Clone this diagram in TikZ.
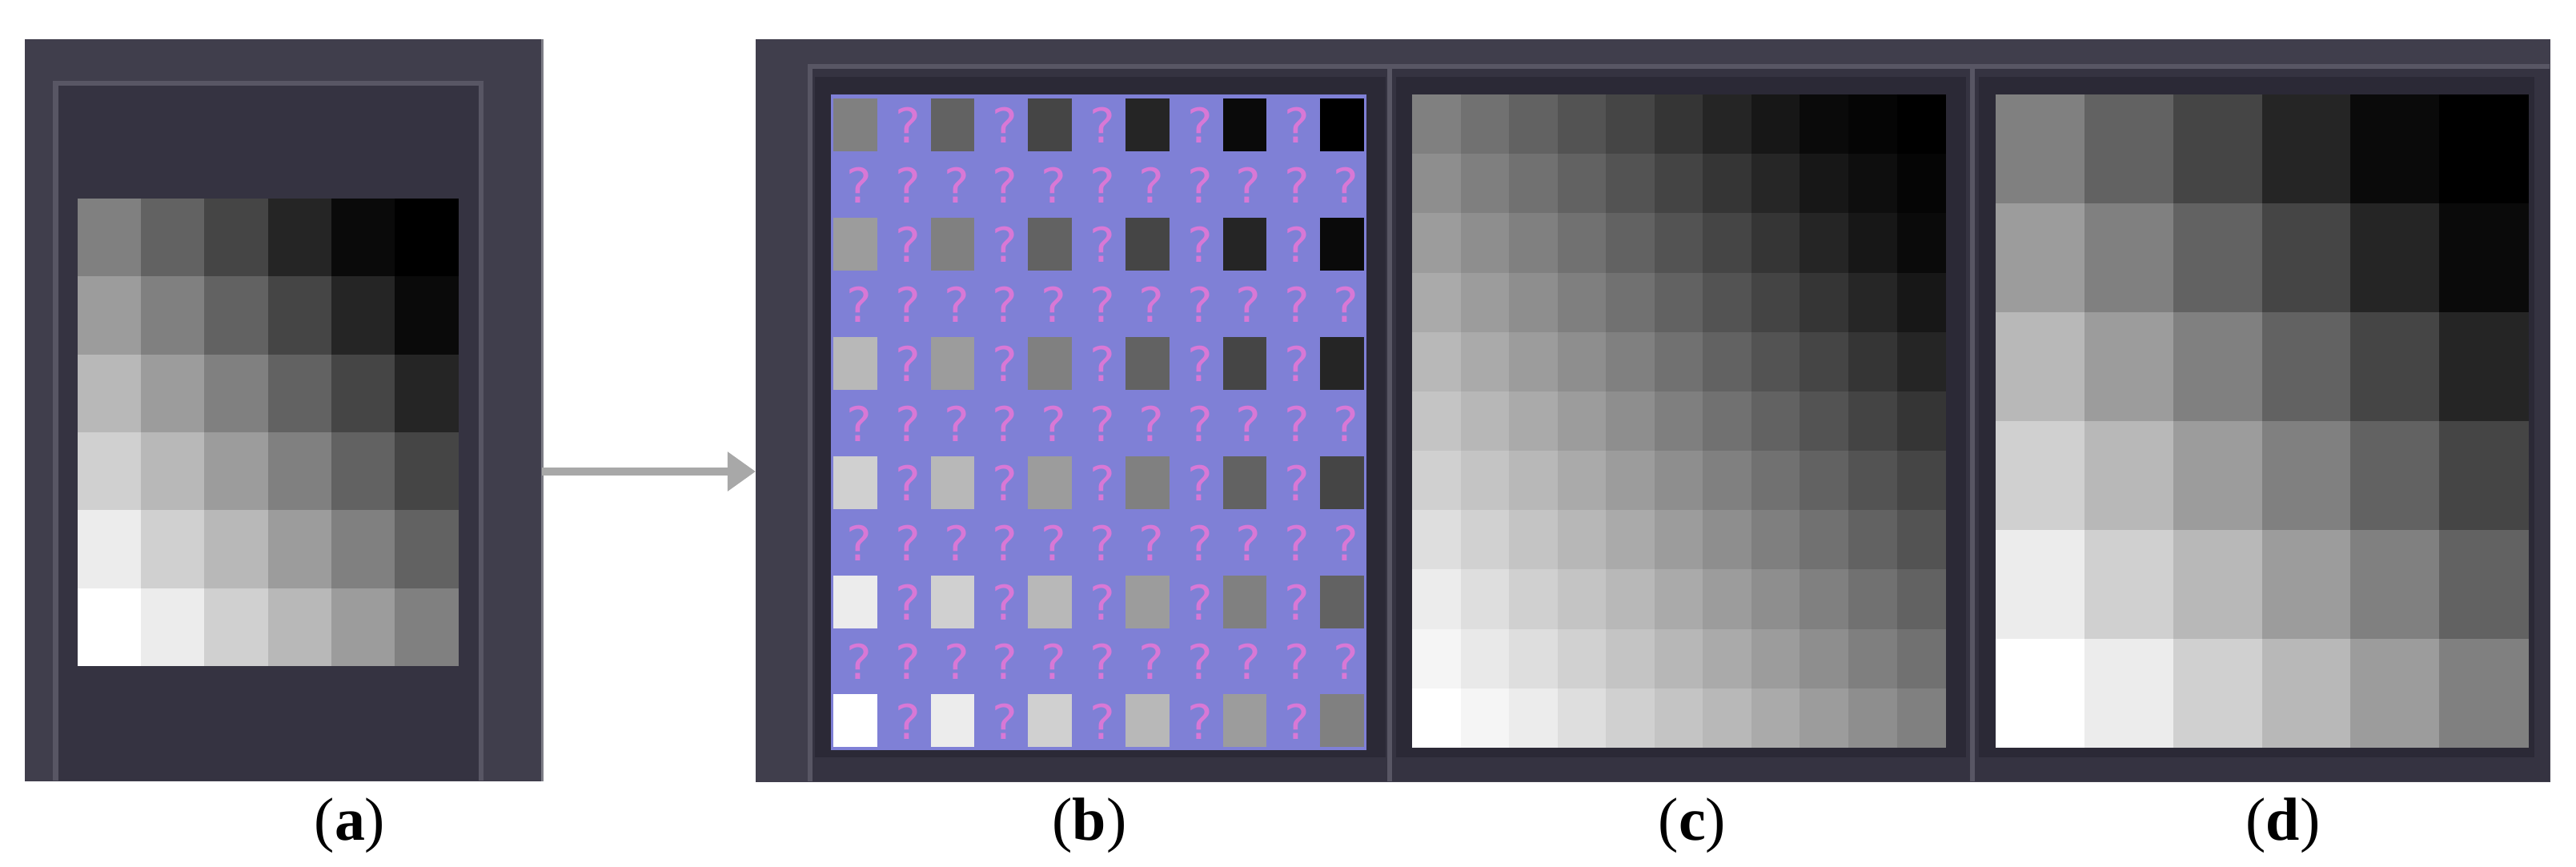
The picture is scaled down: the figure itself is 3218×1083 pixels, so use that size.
\documentclass[tikz,border=0pt]{standalone}
\usepackage{fontspec}
\setmainfont{Liberation Serif}
\newfontfamily\qfont{DejaVu Sans}
\usetikzlibrary{arrows.meta,calc}
\definecolor{panelout}{RGB}{64,62,76}
\definecolor{panelin}{RGB}{53,51,65}
\definecolor{frameline}{RGB}{88,86,100}
\definecolor{subdark}{RGB}{43,41,54}
\definecolor{periw}{RGB}{127,128,214}
\definecolor{qpink}{RGB}{216,120,214}
\definecolor{arrowgray}{RGB}{168,168,168}
\definecolor{edgegray}{RGB}{125,125,134}
\def\glev{{255,236,208,184,156,128,98,69,37,10,0}}
\begin{document}
\begin{tikzpicture}[x=0.01cm,y=-0.01cm,
  panelbox/.style={fill=panelout, inner sep=0pt, outer sep=0pt, anchor=north west},
  frameln/.style={draw=frameline, line width=0.06cm},
  arrowline/.style={draw=arrowgray, line width=0.1cm, -{Triangle[length=0.35cm,width=0.47cm]}},
  lab/.style={anchor=base, font=\fontsize{21.6}{26}\selectfont, inner sep=0pt},
  qm/.style={text=qpink, font=\qfont\fontsize{17}{18}\selectfont, inner sep=0pt}
]
\useasboundingbox (0,0) rectangle (3218,1083);
% ---------- panel (a)
\node[panelbox, minimum width=6.46cm, minimum height=9.26cm] (pa) at (31,49) {};
\fill[panelin] (70,105) rectangle (601,975);
\draw[frameln] (69.5,975) -- (69.5,104.5) -- (601,104.5) -- (601,975);
\draw[draw=edgegray, line width=0.03cm] (pa.north east) -- (pa.south east);
\foreach \c in {0,...,5}{\foreach \r in {0,...,5}{
  \pgfmathtruncatemacro\k{\c-\r+5}
  \pgfmathtruncatemacro\v{\glev[\k]}
  \fill[fill={rgb,255:red,\v;green,\v;blue,\v}] ({97+\c*79.17},{248+\r*97.33}) rectangle ++(79.67,97.83);
}}
% ---------- right panel
\node[panelbox, minimum width=22.41cm, minimum height=9.27cm] (pr) at (944,49) {};
\fill[panelin] (1012,83) rectangle (3185,976);
\draw[frameln] (1012,976) -- (1012,83) -- (3185,83);
\fill[subdark] (1018,96) rectangle (1731,946);
\fill[subdark] (1744,96) rectangle (2456,946);
\fill[subdark] (2472,96) rectangle (3166,946);
\draw[frameln] (1736,86) -- (1736,976);
\draw[frameln] (2464,86) -- (2464,976);
% ---------- grid (b)
\fill[periw] (1038,118) rectangle (1707,937);
\foreach \C in {0,...,10}{\foreach \R in {0,...,10}{
  \pgfmathtruncatemacro\ev{(1-mod(\C,2))*(1-mod(\R,2))}
  \ifnum\ev=1
    \pgfmathtruncatemacro\k{\C/2-\R/2+5}
    \pgfmathtruncatemacro\v{\glev[\k]}
    \fill[fill={rgb,255:red,\v;green,\v;blue,\v}] ({1038+\C*60.82+3},{118+\R*74.45+5}) rectangle ++(54.8,66);
  \else
    \node[qm] (q-\C-\R) at ({1038+(\C+0.58)*60.82},{118+(\R+0.52)*74.45}) {?};
  \fi
}}
% ---------- grid (c)
\foreach \C in {0,...,10}{\foreach \R in {0,...,10}{
  \pgfmathtruncatemacro\cl{\C/2}
  \pgfmathtruncatemacro\ch{(\C+1)/2}
  \pgfmathtruncatemacro\rl{\R/2}
  \pgfmathtruncatemacro\rh{(\R+1)/2}
  \pgfmathtruncatemacro\ia{\cl-\rl+5}
  \pgfmathtruncatemacro\ib{\ch-\rl+5}
  \pgfmathtruncatemacro\ic{\cl-\rh+5}
  \pgfmathtruncatemacro\id{\ch-\rh+5}
  \pgfmathtruncatemacro\va{\glev[\ia]}
  \pgfmathtruncatemacro\vb{\glev[\ib]}
  \pgfmathtruncatemacro\vc{\glev[\ic]}
  \pgfmathtruncatemacro\vd{\glev[\id]}
  \pgfmathtruncatemacro\v{(\va+\vb+\vc+\vd)/4}
  \fill[fill={rgb,255:red,\v;green,\v;blue,\v}] ({1764+\C*60.55},{118+\R*74.18}) rectangle ++(61.05,74.68);
}}
% ---------- grid (d)
\foreach \c in {0,...,5}{\foreach \r in {0,...,5}{
  \pgfmathtruncatemacro\k{\c-\r+5}
  \pgfmathtruncatemacro\v{\glev[\k]}
  \fill[fill={rgb,255:red,\v;green,\v;blue,\v}] ({2493+\c*110.83},{118+\r*136}) rectangle ++(111.33,136.5);
}}
% ---------- arrow
\coordinate (ay) at (0,589);
\draw[arrowline] (pa.east |- ay) -- (pr.west |- ay);
% ---------- labels
\node[lab] (la) at (437,1050) {(\textbf{a})};
\node[lab] (lb) at (1361,1050) {(\textbf{b})};
\node[lab] (lc) at (2114,1050) {(\textbf{c})};
\node[lab] (ld) at (2852,1050) {(\textbf{d})};
\end{tikzpicture}
\end{document}
